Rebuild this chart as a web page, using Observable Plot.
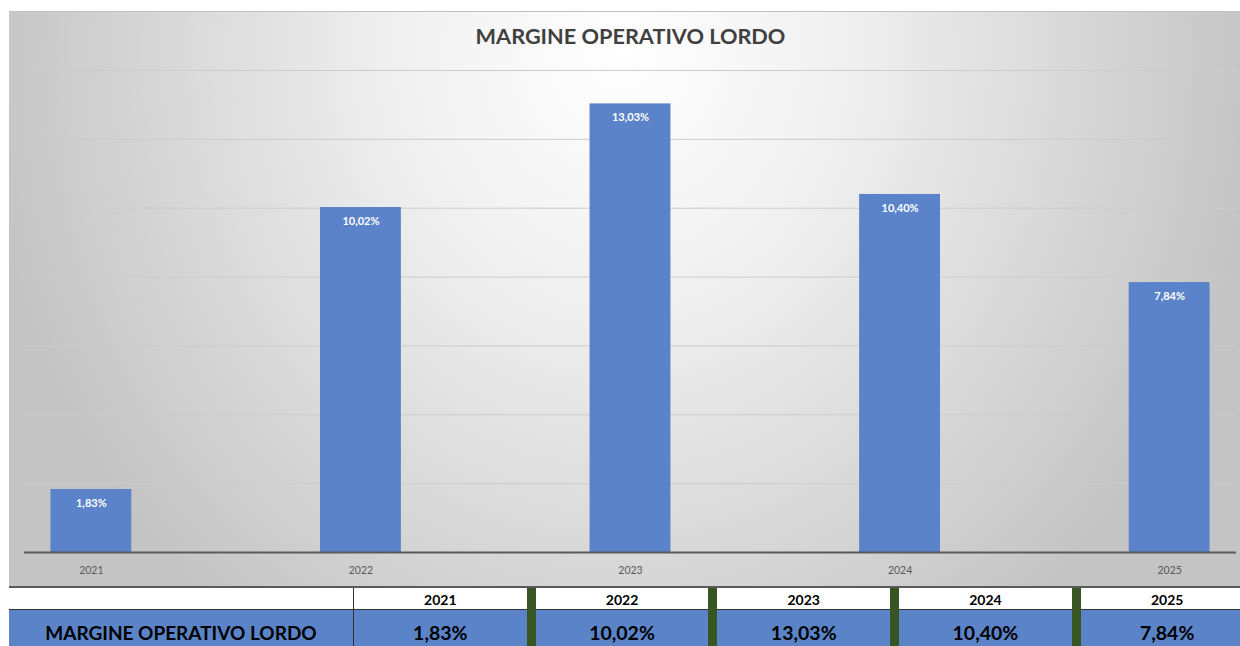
<!DOCTYPE html>
<html>
<head>
<meta charset="utf-8">
<script src="https://cdn.jsdelivr.net/npm/d3@7"></script>
<script src="https://cdn.jsdelivr.net/npm/@observablehq/plot@0.6"></script>
<style>
  html, body { margin: 0; padding: 0; }
  body { width: 1240px; height: 646px; overflow: hidden; background: #ffffff; position: relative; font-family: Lato, "Open Sans", sans-serif; }
  #bg { position: absolute; left: 9px; top: 11px; width: 1231px; height: 574px;
        border-top: 1px solid #c2c2c2; border-bottom: 2px solid #5a5a5a;
        background: radial-gradient(ellipse 640px 720px at 612px 40px, #ffffff 0%, #f0f0f0 35%, #c4c4c4 100%); }
  #chart { position: absolute; left: 0; top: 0; }
  .t { position: absolute; line-height: 1; white-space: nowrap; text-align: center; font-weight: 700; }
  .blk { position: absolute; }
</style>
</head>
<body>
<div id="bg"></div>
<div id="chart"></div>
<div id="table"></div>
<script>
// ---- data ----
const title = "MARGINE OPERATIVO LORDO";
const rowLabel = "MARGINE OPERATIVO LORDO";
const years = ["2021", "2022", "2023", "2024", "2025"];
const margins = [1.83, 10.02, 13.03, 10.40, 7.84];
const gridTicks = [2, 4, 6, 8, 10, 12, 14];

const data = years.map((y, i) => ({year: y, value: margins[i]}));
const fmt = v => v.toFixed(2).replace(".", ",") + "%";

// ---- title ----
function addText(parent, txt, left, width, baseline, fs, color) {
  const d = document.createElement("div");
  d.className = "t";
  d.textContent = txt;
  d.style.left = left + "px";
  d.style.width = width + "px";
  d.style.fontSize = fs + "px";
  d.style.top = (baseline - 0.887 * fs) + "px";
  d.style.color = color;
  parent.appendChild(d);
  return d;
}
addText(document.body, title, 0, 1261, 45, 21.7, "#404040");

// ---- chart ----
const chart = Plot.plot({
  width: 1240,
  height: 587,
  marginLeft: 24,
  marginRight: 4,
  marginTop: 70,
  marginBottom: 35,
  style: {background: "transparent", fontFamily: "Lato, sans-serif", fontSize: "10.5px", color: "#595959", overflow: "visible"},
  x: {domain: years, paddingInner: 0.7, paddingOuter: 0.098, round: false, label: null, tickSize: 0, tickPadding: 14},
  y: {domain: [0, 14], axis: null},
  marks: [
    Plot.ruleY(gridTicks, {stroke: "#cccccc", strokeWidth: 1}),
    Plot.barY(data, {x: "year", y: "value", fill: "#5b83c9"}),
    Plot.ruleY([0], {stroke: "#5a5a5a", strokeWidth: 2}),
    Plot.text(data, {x: "year", y: "value", text: d => fmt(d.value), dy: 14, fill: "#ffffff",
                     fontWeight: "bold", fontSize: 11})
  ]
});
document.getElementById("chart").appendChild(chart);

// ---- table ----
const tbl = document.getElementById("table");
function block(left, top, w, h, bg) {
  const d = document.createElement("div");
  d.className = "blk";
  Object.assign(d.style, {left: left + "px", top: top + "px", width: w + "px", height: h + "px", background: bg});
  tbl.appendChild(d);
}
const rowTop = 610, rowH = 36, headTop = 588;
block(9, rowTop, 1231, rowH, "#5b84c8");
block(9, rowTop - 1, 1231, 1, "#333333");
block(353, headTop, 1, 646 - headTop, "#333333");
const colStart = 354, cellW = 172.7, sepW = 9;
years.forEach((y, i) => {
  const x0 = colStart + i * (cellW + sepW);
  if (i < years.length - 1) block(x0 + cellW, headTop, sepW, 646 - headTop, "#375623");
  addText(tbl, y, x0, cellW, 605, 14, "#000000");
  addText(tbl, fmt(margins[i]), x0, cellW, 640, 19.5, "#000000");
});
addText(tbl, rowLabel, 9, 344, 639.5, 19, "#000000");
</script>
</body>
</html>
